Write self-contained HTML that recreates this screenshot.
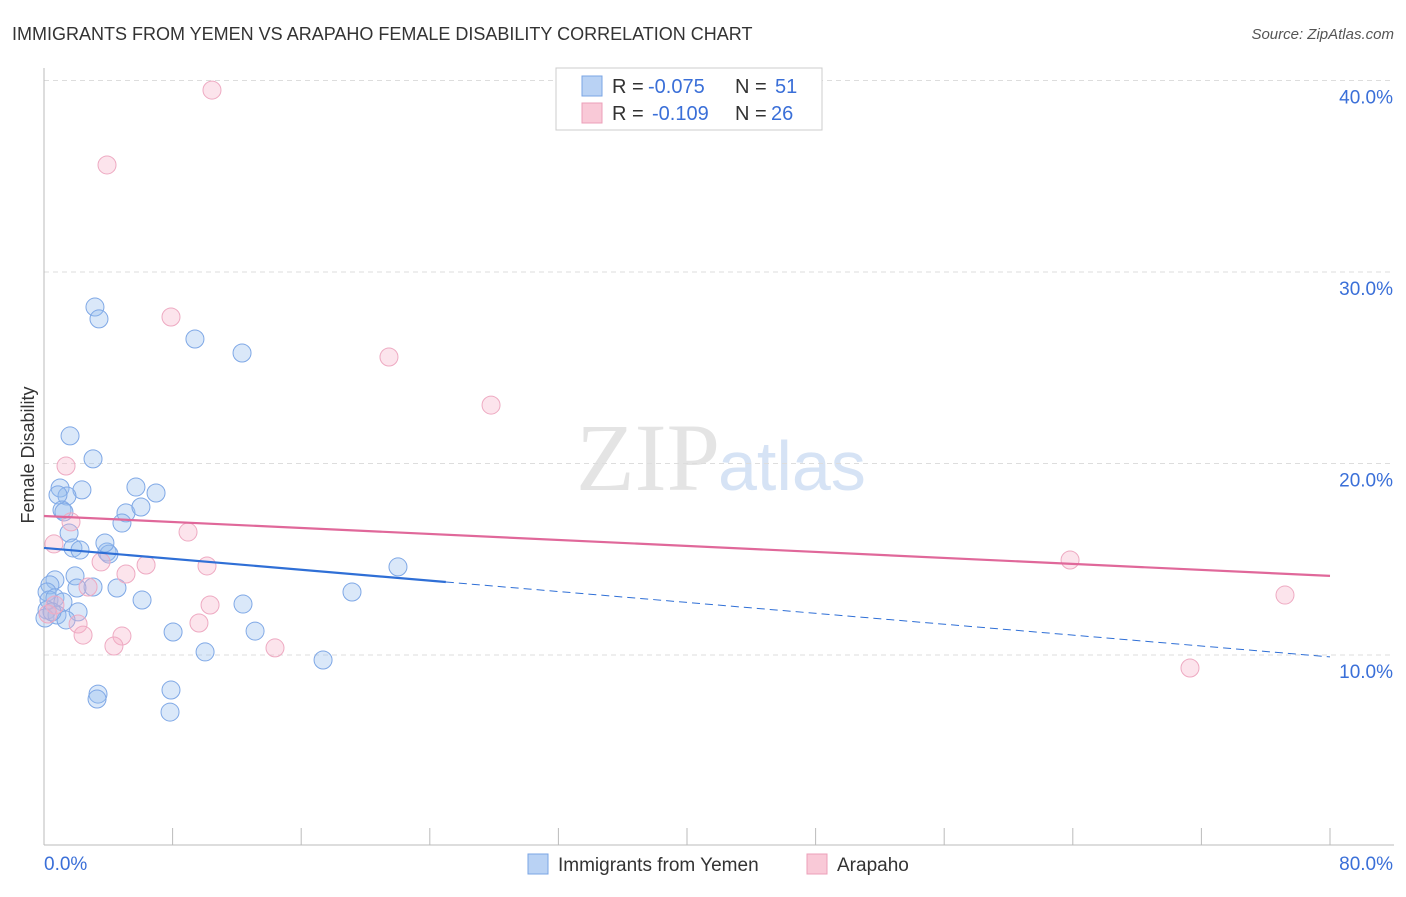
<!DOCTYPE html>
<html><head><meta charset="utf-8"><style>
body{margin:0;background:#fff;font-family:"Liberation Sans",sans-serif;}
svg text{font-family:"Liberation Sans",sans-serif;}
</style></head><body>
<svg id="c" width="1406" height="892">
<text x="12" y="40" font-size="18" fill="#333">IMMIGRANTS FROM YEMEN VS ARAPAHO FEMALE DISABILITY CORRELATION CHART</text>
<text x="1394" y="39" font-size="15" fill="#555" font-style="italic" text-anchor="end">Source: ZipAtlas.com</text>
<text x="720" y="490" font-size="96" fill="#e4e4e4" text-anchor="end" style="font-family:'Liberation Serif',serif">ZIP</text>
<text x="718" y="490" font-size="70" fill="#d6e3f5">atlas</text>
<text x="34" y="455" font-size="18" fill="#333" text-anchor="middle" transform="rotate(-90 34 455)">Female Disability</text>
<g id="grid"></g><g id="marks"></g>
<g>
<rect x="556" y="68" width="266" height="62" fill="#fff" stroke="#ccc"/>
<rect x="582" y="76" width="20" height="20" fill="#b9d2f4" stroke="#7aa5e4"/>
<rect x="582" y="103" width="20" height="20" fill="#f9c9d7" stroke="#ec9fb8"/>
<text x="612" y="93" font-size="20" fill="#333">R =</text>
<text x="648" y="93" font-size="20" fill="#3a6fd8">-0.075</text>
<text x="735" y="93" font-size="20" fill="#333">N =</text>
<text x="775" y="93" font-size="20" fill="#3a6fd8">51</text>
<text x="612" y="120" font-size="20" fill="#333">R =</text>
<text x="652" y="120" font-size="20" fill="#3a6fd8">-0.109</text>
<text x="735" y="120" font-size="20" fill="#333">N =</text>
<text x="771" y="120" font-size="20" fill="#3a6fd8">26</text>
</g>
<g>
<rect x="528" y="854" width="20" height="20" fill="#b9d2f4" stroke="#7aa5e4"/>
<text x="558" y="871" font-size="19" fill="#333">Immigrants from Yemen</text>
<rect x="807" y="854" width="20" height="20" fill="#f9c9d7" stroke="#ec9fb8"/>
<text x="837" y="871" font-size="19" fill="#333">Arapaho</text>
</g>
</svg>
<script>
const yTicks=[10,20,30,40];
const yTickLabels=["10.0%","20.0%","30.0%","40.0%"];
const xTickLabels=["0.0%","80.0%"];
const blueX=[3.17,3.42,9.39,12.32,1.62,3.05,1.0,2.36,1.43,0.87,5.72,6.97,1.12,1.24,5.1,6.03,4.85,1.56,1.8,2.24,3.92,4.04,3.79,22.02,0.68,1.93,0.37,0.19,3.05,4.54,2.05,19.16,6.1,12.38,0.31,0.68,1.18,2.12,0.19,0.06,0.81,1.37,8.03,13.13,10.02,17.36,3.36,3.3,7.9,7.84,0.5];
const blueY=[28.17,27.55,26.5,25.77,21.44,20.24,18.72,18.62,18.3,18.36,18.77,18.46,17.57,17.47,17.42,17.73,16.89,16.37,15.59,15.48,15.38,15.27,15.85,14.6,13.92,14.13,13.66,13.29,13.55,13.5,13.5,13.29,12.87,12.66,12.87,12.98,12.77,12.25,12.35,11.93,12.09,11.83,11.2,11.25,10.16,9.74,7.96,7.7,8.17,7.02,12.25];
const pinkX=[10.45,3.92,7.9,21.46,27.81,1.37,1.68,8.96,0.62,3.55,6.35,5.1,10.14,2.74,0.68,10.33,9.64,2.12,2.43,4.85,4.35,14.37,63.83,77.2,71.29,0.25];
const pinkY=[39.5,35.59,27.65,25.56,23.05,19.87,16.95,16.42,15.8,14.86,14.7,14.23,14.65,13.55,12.61,12.61,11.67,11.62,11.04,10.99,10.47,10.37,14.96,13.13,9.32,12.14];
const blueTrend=[15.59,9.9];
const pinkTrend=[17.26,14.13];
const blueSolidEnd=25;
const NS="http://www.w3.org/2000/svg";
const X=v=>44+v/80*1286, Y=v=>655-(v-10)*19.15;
function mk(t,a,p){const e=document.createElementNS(NS,t);for(const k in a)e.setAttribute(k,a[k]);p.appendChild(e);return e;}
const g=document.getElementById('grid'),m=document.getElementById('marks');
yTicks.forEach((t,i)=>{
 const l=mk('line',{x1:44,x2:1394,y1:Y(t),y2:Y(t),stroke:'#ddd','stroke-dasharray':'5,4'},g);
 
 
 const tx=mk('text',{x:1393,y:Y(t)+23,'font-size':19,fill:'#3a6fd8','text-anchor':'end'},g);
 tx.textContent=yTickLabels[i];
 
 
});
const ax=mk('line',{x1:44,x2:44,y1:68,y2:845,stroke:'#bbb'},g);


const bx=mk('line',{x1:44,x2:1394,y1:845,y2:845,stroke:'#bbb'},g);


for(let i=0;i<=10;i++){const t=mk('line',{x1:X(i*8),x2:X(i*8),y1:828,y2:845,stroke:'#bbb'},g);
 
 }
[[0,'start',44],[80,'end',1393]].forEach((d,i)=>{const t=mk('text',{x:d[2],y:870,'font-size':19,fill:'#3a6fd8','text-anchor':d[1]},g);t.textContent=xTickLabels[i];
 
 });
function pts(xs,ys,fill,stroke,name){xs.forEach((x,i)=>{const c=mk('circle',{cx:X(x),cy:Y(ys[i]),r:9,fill:fill,stroke:stroke,'stroke-width':1},m);
 
 });}
pts(blueX,blueY,'rgba(150,188,238,0.35)','#7fa8e6','point-yemen');
pts(pinkX,pinkY,'rgba(246,178,201,0.35)','#eeaac2','point-arapaho');
const by=x=>blueTrend[0]+(blueTrend[1]-blueTrend[0])*x/80;
let l=mk('line',{x1:X(0),y1:Y(by(0)),x2:X(blueSolidEnd),y2:Y(by(blueSolidEnd)),stroke:'#2f6fd6','stroke-width':2.2},m);


l=mk('line',{x1:X(blueSolidEnd),y1:Y(by(blueSolidEnd)),x2:X(80),y2:Y(by(80)),stroke:'#2f6fd6','stroke-width':1,'stroke-dasharray':'8,5'},m);


l=mk('line',{x1:X(0),y1:Y(pinkTrend[0]),x2:X(80),y2:Y(pinkTrend[1]),stroke:'#e0689a','stroke-width':2.2},m);


</script>
</body></html>
